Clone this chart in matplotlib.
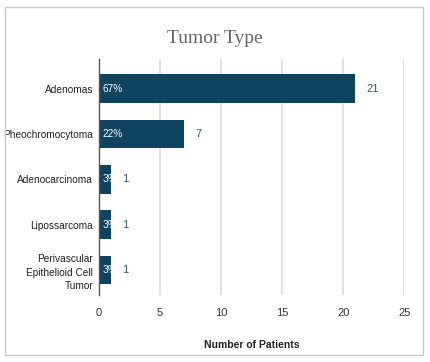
import matplotlib
matplotlib.use("Agg")
import matplotlib.pyplot as plt
from matplotlib.patches import Rectangle

categories = ["Adenomas", "Pheochromocytoma", "Adenocarcinoma", "Lipossarcoma",
              "Perivascular\nEpithelioid Cell\nTumor"]
patients = [21, 7, 1, 1, 1]
percents = ["67%", "22%", "3%", "3%", "3%"]
xticks = [0, 5, 10, 15, 20, 25]

bar_color = "#0f4461"
label_color = "#2b5d7c"
plt.rcParams["font.family"] = ["Liberation Sans", "DejaVu Sans"]

fig = plt.figure(figsize=(4.30, 3.62), dpi=100)
fig.patches.append(Rectangle((5 / 430, 7 / 362), 418 / 430, 348 / 362,
                             transform=fig.transFigure, fill=False,
                             edgecolor="#c8c8c8", linewidth=1.0))
ax = fig.add_axes([0.230, 0.185, 0.710, 0.652])

y = list(range(len(categories)))
ax.barh(y, patients, height=0.63, color=bar_color, zorder=3)
ax.set_ylim(4.55, -0.65)
ax.set_xlim(0, 25)
ax.set_xticks(xticks)
ax.set_yticks(y)
ax.set_yticklabels(categories, fontsize=7.3, color="#222222", linespacing=1.45)
ax.tick_params(axis="x", labelsize=8, colors="#333333", length=0, pad=9)
ax.tick_params(axis="y", length=0, pad=4)
ax.grid(axis="x", color="#dddddd", linewidth=1.2, zorder=0)
for s in ["top", "right", "bottom"]:
    ax.spines[s].set_visible(False)
ax.spines["left"].set_color("#555555")
ax.spines["left"].set_linewidth(1.0)
ax.spines["left"].set_zorder(4)

for yi, v, p in zip(y, patients, percents):
    ax.text(0.3, yi, p, va="center", ha="left", color="white", fontsize=7.3, zorder=5)
    ax.text(v + 0.9, yi, str(v), va="center", ha="left", color=label_color, fontsize=8)

ax.set_xlabel("Number of Patients", fontsize=7.5, fontweight="bold", color="#222222",
              labelpad=16)
fig.text(0.5, 0.895, "Tumor Type", ha="center", va="center", fontsize=14,
         color="#666666", family=["Liberation Serif", "DejaVu Serif"])

fig.savefig("out.png", dpi=100)
